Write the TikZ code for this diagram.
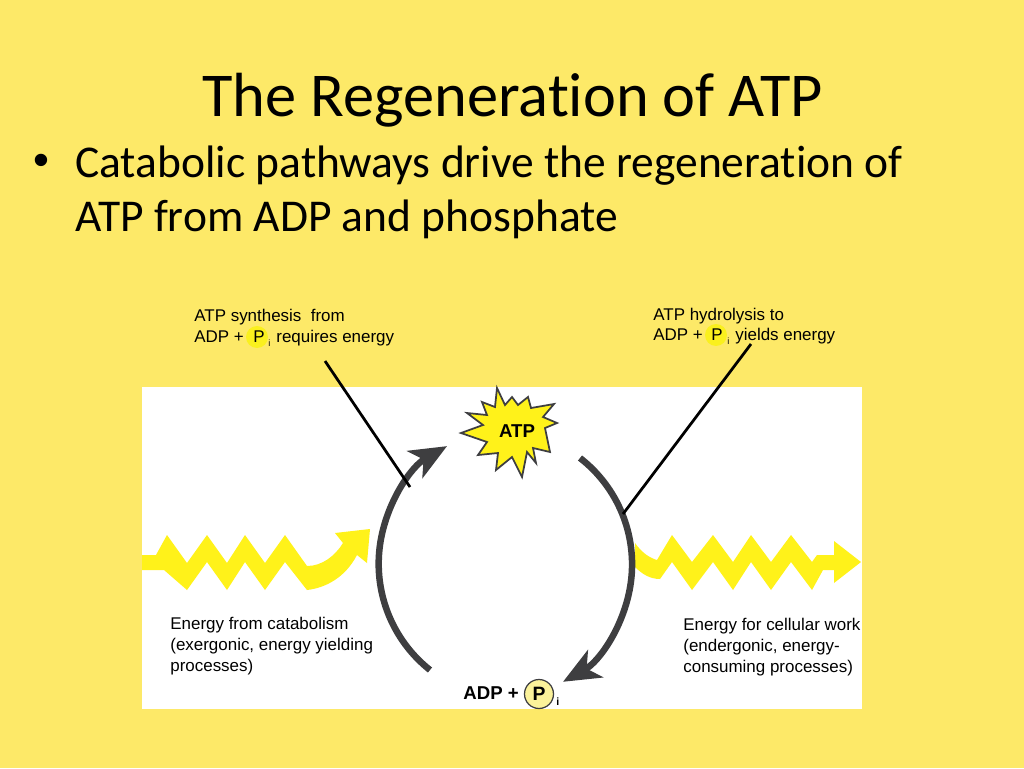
\documentclass[tikz,border=0pt]{standalone}
\usepackage{fontspec}
\setmainfont[Ligatures=NoCommon]{Carlito}
\newfontfamily\arialfont{Liberation Sans}
\usepackage{tikz}
\usetikzlibrary{positioning,arrows.meta}
\definecolor{slidebg}{HTML}{FDE968}
\definecolor{zapyellow}{HTML}{FFF21A}
\definecolor{cyclegray}{HTML}{3E3E40}
\definecolor{paleyellow}{HTML}{FBF29A}
\definecolor{glowyellow}{HTML}{FAF01E}
\begin{document}
\begin{tikzpicture}[x=0.02cm,y=-0.02cm]
\tikzstyle{heading}=[anchor=base west,inner sep=0pt,font=\fontsize{35.5}{36}\selectfont]
\tikzstyle{bodyline}=[anchor=base west,inner sep=0pt,font=\fontsize{25.9}{26}\selectfont]
\tikzstyle{note}=[anchor=base west,inner sep=0pt,font=\arialfont\fontsize{9.65}{10}\selectfont]
\tikzstyle{tiny}=[anchor=base west,inner sep=0pt,font=\arialfont\fontsize{5.2}{6}\selectfont]
\tikzstyle{boldnote}=[anchor=base west,inner sep=0pt,font=\arialfont\bfseries\fontsize{10.6}{11}\selectfont]
\tikzstyle{glow}=[circle,fill=glowyellow,minimum size=12.5pt,inner sep=0pt]
\tikzstyle{cycle}=[line width=.13cm,color=cyclegray,-{Stealth[length=.74cm,width=.62cm,inset=.2cm]}]
\tikzstyle{leader}=[line width=.055cm,black]
\tikzstyle{zap}=[fill=zapyellow,draw=none]
    \path[fill=slidebg] (0,0) rectangle (1024,768);
    \path[fill=white] (142,387) rectangle (862,709);
    \useasboundingbox (0,0) rectangle (1024,768);
    \node[heading] (title) at (202,116) {The Regeneration of ATP};
    \node[bodyline,font=\arialfont\fontsize{25.9}{26}\selectfont] (bullet) at (33,175) {•};
    \node[bodyline] (line1) at (75,177) {Catabolic pathways drive the regeneration of};
    \node[bodyline] (line2) at (75,231) {ATP from ADP and phosphate};
    % callouts
    \node[glow] (p1) at (257,337) {};
    \node[glow] (p2) at (716,335) {};
    \node[note] (syn1) at (194,321) {ATP synthesis\ \ from};
    \node[note] (syn2) at (194,342) {ADP +};
    \node[note] (synp) at (253,342) {P};
    \node[tiny] (syni) at (268,346) {i};
    \node[note] (syn3) at (276,342) {requires energy};
    \node[note] (hyd1) at (653,320) {ATP hydrolysis to};
    \node[note] (hyd2) at (653,340) {ADP +};
    \node[note] (hydp) at (711,340) {P};
    \node[tiny] (hydi) at (727,344) {i};
    \node[note] (hyd3) at (735,340) {yields energy};
    % energy zigzags
    \draw[zap] (142,555)--(156,555)--(167,535)--(187,563)--(207,535)--(227,563)--(245,535)--(265,563)--(285,535)--(307,566)
      .. controls (322,566) and (335,556) .. (343,543)--(335,533)--(370,529)--(367,563)--(357,555)
      .. controls (345,578) and (325,588) .. (307,590)--(285,562)--(265,590)--(245,562)--(227,590)--(207,562)--(187,590)--(164,570)--(142,570)--cycle;
    \draw[zap] (635,543) .. controls (642,553) and (650,558) .. (657,560)--(672,535)--(692,562)--(713,535)--(733,562)--(751,535)--(771,562)--(791,535)--(812,562)--(817,555)--(834,555)--(834,541)--(861,562)--(834,583)--(834,570)--(823,570)--(812,590)--(791,562)--(771,590)--(751,562)--(733,590)--(713,562)--(692,590)--(672,562)--(660,579)
      .. controls (650,579) and (642,574) .. (635,567)--cycle;
    % cycle arrows
    \coordinate (leftstart) at (430,670);
    \coordinate (rightstart) at (580,458);
    \draw[cycle] (leftstart) arc[start angle=128.4,end angle=240.3,radius=135.5];
    \draw[cycle] (rightstart) arc[start angle=-52.2,end angle=60.9,radius=134.5];
    % leaders
    \coordinate (synfoot) at (325,361);
    \coordinate (syntip) at (410,487);
    \coordinate (hydfoot) at (751,344);
    \coordinate (hydtip) at (623,514);
    \draw[leader] (synfoot) to (syntip);
    \draw[leader] (hydfoot) to (hydtip);
    % atp burst
    \draw[fill=zapyellow,draw=cyclegray,line width=.035cm,line join=miter] (497,388)--(505,405)--(512,397)--(518,405)--(528,397)--(531,408)--(554,404)--(543,417)--(557,423)--(545,428)--(550,452)--(533,448)--(536,463)--(527,452)--(522,477)--(512,457)--(496,470)--(498,453)--(478,455)--(487,442)--(461,433)--(483,425)--(467,413)--(487,415)--(482,402)--(495,407)--cycle;
    \node[boldnote,anchor=center] (atp) at (517,431) {ATP};
    % energy text
    \node[note] (cat1) at (170,629) {Energy from catabolism};
    \node[note] (cat2) at (170,650) {(exergonic, energy yielding};
    \node[note] (cat3) at (170,671) {processes)};
    \node[note] (work1) at (683,630) {Energy for cellular work};
    \node[note] (work2) at (683,651) {(endergonic, energy-};
    \node[note] (work3) at (683,672) {consuming processes)};
    % adp
    \node[boldnote] (adp) at (463,699) {ADP +};
    \node[circle,draw=cyclegray,fill=paleyellow,line width=.025cm,minimum size=.58cm,inner sep=0pt,font=\arialfont\bfseries\fontsize{11}{11}\selectfont] (pcirc) at (539,694) {P};
    \node[tiny,font=\arialfont\bfseries\fontsize{6}{6}\selectfont] (pi) at (556,705) {i};
\end{tikzpicture}
\end{document}
